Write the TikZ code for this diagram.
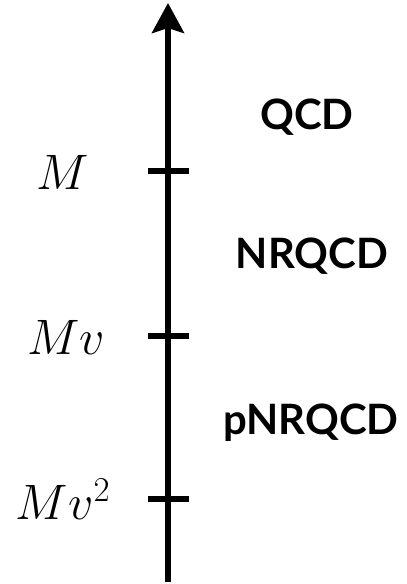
\RequirePackage{fix-cm}
\documentclass[tikz,border=0pt]{standalone}
\usepackage{fontspec}
\newfontfamily\labfont{Lato}
\usetikzlibrary{arrows.meta}
\begin{document}
\begin{tikzpicture}[x=1bp,y=-1bp,
  axisline/.style={line width=5.5bp},
  tick/.style={line width=5.5bp},
  scalelab/.style={font=\fontsize{50}{52}\selectfont, anchor=center},
  regionlab/.style={font=\labfont\bfseries\fontsize{42}{44}\selectfont, anchor=center}]
\useasboundingbox (0,0) rectangle (406,584);
\coordinate (bot) at (168,582);
\coordinate (top) at (168,3);
\draw[axisline,-{Stealth[length=30bp,width=32bp,inset=5bp]}] (bot) -- (top);
\foreach \n/\y in {a/171,b/336,c/499}{
  \coordinate (\n l) at (148,\y);
  \coordinate (\n r) at (189,\y);
  \draw[tick] (\n l) -- (\n r);
}
\node[scalelab] (m1) at (63,172) {$M$};
\node[scalelab] (m2) at (66,337) {$Mv$};
\node[scalelab] (m3) at (63,499) {$Mv^2$};
\node[regionlab] (q) at (307,117) {QCD};
\node[regionlab] (n) at (312,256) {NRQCD};
\node[regionlab] (p) at (311,423) {pNRQCD};
\end{tikzpicture}
\end{document}
